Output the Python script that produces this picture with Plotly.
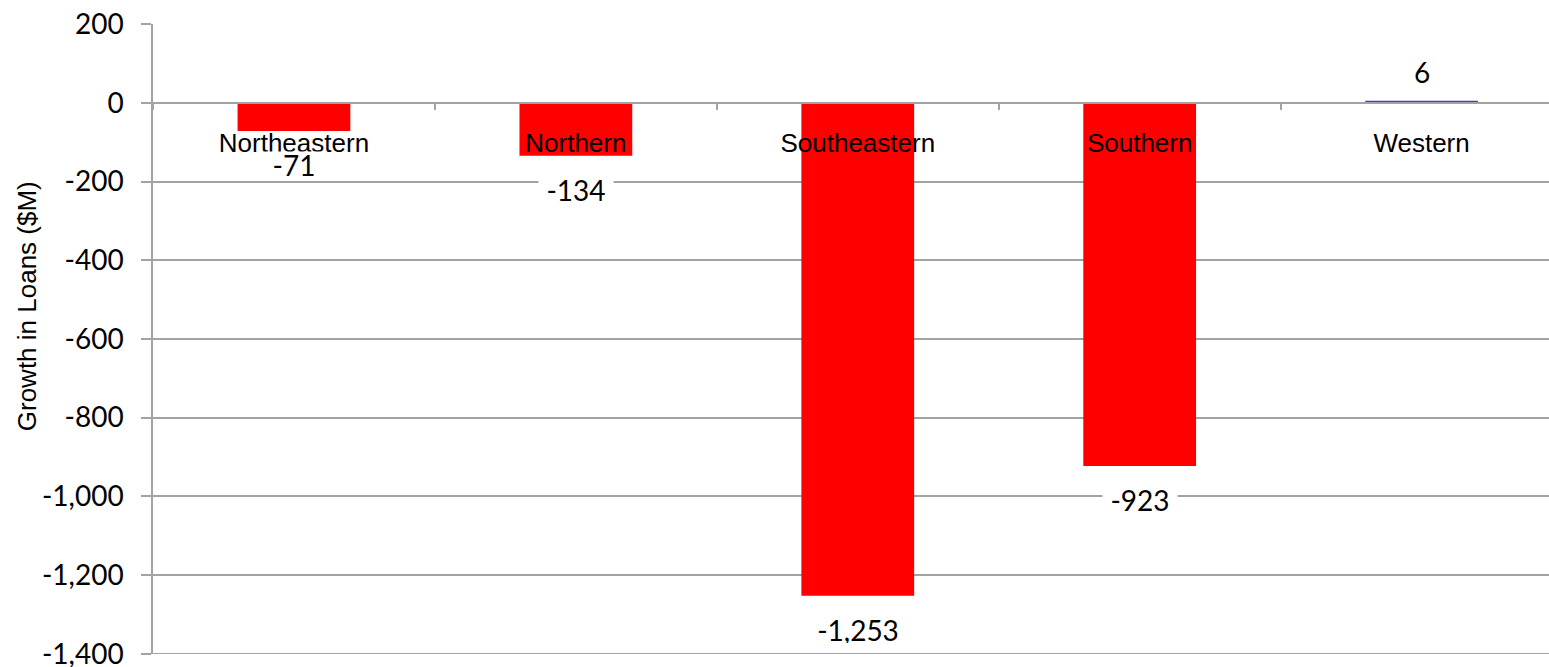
import plotly.graph_objects as go

# Loan growth by region, in $M
regions = ["Northeastern", "Northern", "Southeastern", "Southern", "Western"]
growth = [-71, -134, -1253, -923, 6]
y_ticks = [-1400, -1200, -1000, -800, -600, -400, -200, 0, 200]
y_tick_text = [f"{v:,}" for v in y_ticks]

Y_MIN, Y_MAX = -1400, 200
GRID = "#A3A3A3"
NEG_COLOR = "#FF0000"
POS_COLOR = "#3A3AF2"
LABEL_FONT = dict(family="Lato", size=28, color="black")

bar_colors = [POS_COLOR if v >= 0 else NEG_COLOR for v in growth]

fig = go.Figure(
    go.Bar(
        x=regions,
        y=growth,
        marker=dict(color=bar_colors, line=dict(width=0)),
        width=0.4,
        hoverinfo="x+y",
    )
)

# Value labels with a white box that breaks the gridlines
for name, v in zip(regions, growth):
    txt = f"{v:,}"
    fig.add_annotation(
        x=name,
        y=v,
        text=txt,
        showarrow=False,
        yanchor="middle",
        yshift=-34 if v < 0 else 29,
        bgcolor="white" if v < 0 else "rgba(0,0,0,0)",
        borderpad=0,
        width=len(txt) * 14 + 18,
        height=26,
        align="center",
        valign="middle",
        font=LABEL_FONT,
        xref="x",
        yref="y",
    )

# Rotated axis title
fig.add_annotation(
    text="Growth in Loans ($M)",
    textangle=-90,
    xref="paper",
    yref="paper",
    x=0,
    xshift=-126,
    xanchor="center",
    y=0.552,
    yanchor="middle",
    showarrow=False,
    font=dict(family="Liberation Sans", size=26, color="black"),
)

# Bottom gridline at the lower end of the value axis
fig.add_shape(
    type="line",
    xref="paper",
    yref="y",
    x0=0,
    x1=1,
    y0=Y_MIN,
    y1=Y_MIN,
    line=dict(color=GRID, width=1.5),
    layer="below",
)

zero_pos = (0 - Y_MIN) / (Y_MAX - Y_MIN)

fig.update_layout(
    width=1549,
    height=667,
    margin=dict(l=153, r=0, t=24, b=13),
    paper_bgcolor="white",
    plot_bgcolor="white",
    showlegend=False,
    xaxis=dict(
        type="category",
        range=[-0.5, 4.452],
        anchor="free",
        position=zero_pos,
        showline=True,
        linecolor=GRID,
        linewidth=1.5,
        ticks="outside",
        tickson="boundaries",
        ticklen=6,
        tickcolor=GRID,
        tickwidth=1.5,
        showgrid=False,
        tickfont=dict(family="Liberation Sans", size=26, color="black"),
        ticklabelstandoff=17,
        layer="above traces",
    ),
    yaxis=dict(
        range=[Y_MIN - 0.8, Y_MAX + 0.8],
        tickvals=y_ticks,
        ticktext=y_tick_text,
        showline=True,
        linecolor=GRID,
        linewidth=1.5,
        ticks="outside",
        ticklen=10,
        tickcolor=GRID,
        tickwidth=1.5,
        showgrid=True,
        gridcolor=GRID,
        gridwidth=1.5,
        zeroline=False,
        tickfont=LABEL_FONT,
        ticklabelstandoff=12,
        ticklabeloverflow="allow",
        automargin=False,
    ),
)

fig.write_html("out.html")
